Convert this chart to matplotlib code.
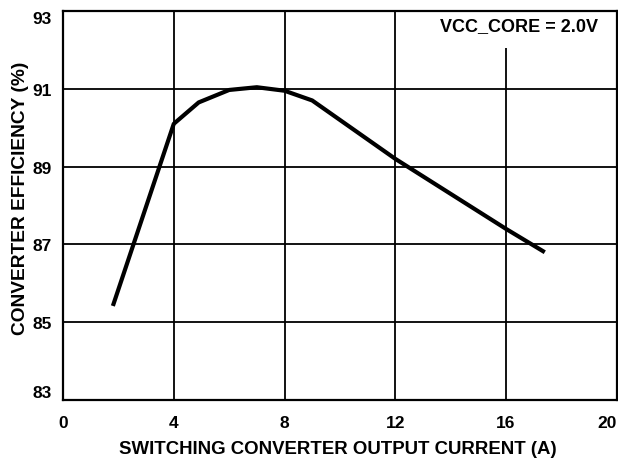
import matplotlib
matplotlib.use("Agg")
import matplotlib.pyplot as plt

# efficiency curve
current = [1.8, 4.0, 4.9, 6.0, 7.0, 8.0, 9.0, 12.0, 16.0, 17.4]
efficiency = [85.42, 90.1, 90.65, 90.97, 91.04, 90.95, 90.7, 89.2, 87.4, 86.8]

x_ticks = [0, 4, 8, 12, 16, 20]
y_ticks = [83, 85, 87, 89, 91, 93]

plt.rcParams["font.family"] = ["Liberation Sans", "DejaVu Sans"]
plt.rcParams["font.weight"] = "bold"

fig = plt.figure(figsize=(6.18, 4.6), dpi=100)
ax = fig.add_axes([0.102, 0.128, 0.896, 0.846])

ax.plot(current, efficiency, color="black", lw=3.0, solid_capstyle="butt",
        solid_joinstyle="round", zorder=3)

ax.set_xlim(0, 20)
ax.set_ylim(83, 93)
ax.set_xticks(x_ticks)
ax.set_yticks(y_ticks)
ax.tick_params(length=0, labelsize=12.5)
ax.tick_params(axis="x", pad=11)
ax.tick_params(axis="y", pad=8)

xl = ax.get_xticklabels()
yl = ax.get_yticklabels()
for lbl in xl + yl:
    lbl.set_fontweight("bold")
# end labels are pulled inside like in the reference
xl[-1].set_horizontalalignment("right")
yl[-1].set_verticalalignment("top")
yl[0].set_verticalalignment("bottom")

ax.grid(True, color="black", lw=1.3)
ax.set_axisbelow(True)
for s in ax.spines.values():
    s.set_linewidth(1.6)
    s.set_zorder(5)

ax.set_xlabel("SWITCHING CONVERTER OUTPUT CURRENT (A)", fontsize=13.4,
              fontweight="bold")
ax.xaxis.set_label_coords(0.496, -0.1026)
ax.set_ylabel("CONVERTER EFFICIENCY (%)", fontsize=13.8, fontweight="bold")
ax.yaxis.set_label_coords(-0.0614, 0.52)

ax.text(0.9657, 0.9628, "VCC_CORE = 2.0V", transform=ax.transAxes, ha="right",
        va="center", fontsize=13, fontweight="bold", zorder=4,
        bbox=dict(facecolor="white", edgecolor="none", pad=10))

fig.savefig("out.png", dpi=100)
